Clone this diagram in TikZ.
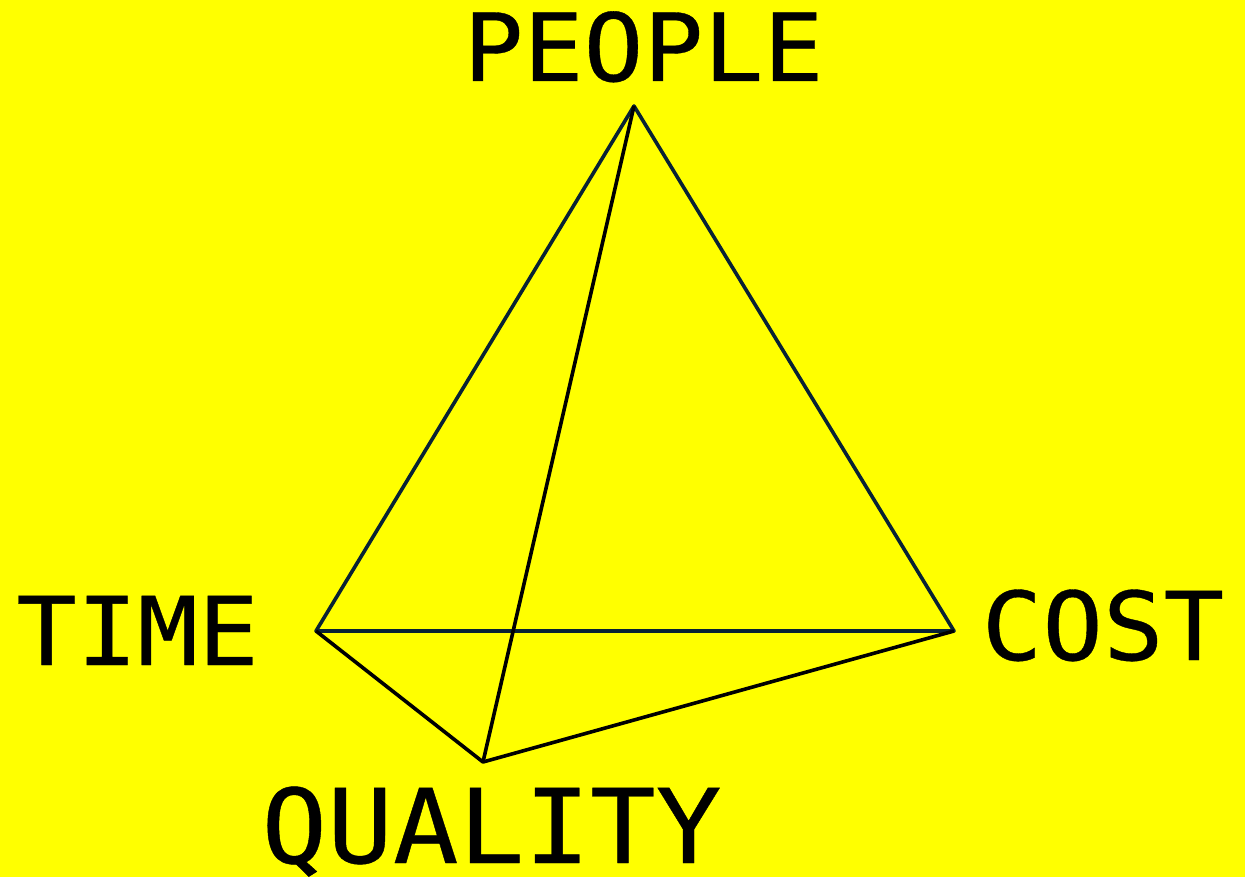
\documentclass[tikz,border=0pt]{standalone}
\usepackage{fontspec}
\newfontfamily\labfont[FakeStretch=1.06,FakeBold=0.4]{DejaVu Sans Mono}
\definecolor{bgy}{RGB}{255,255,0}
\definecolor{edgec}{RGB}{8,34,52}
\tikzset{lab/.style={inner sep=0pt,anchor=base,text=black},edge/.style={draw=black,line width=3.6pt,line join=round},backedge/.style={edge,draw=edgec}}
\begin{document}
\begin{tikzpicture}[x=1pt,y=-1pt]
\useasboundingbox[fill=bgy] (0,0) rectangle (1245,877);
\coordinate (P) at (634,106);
\coordinate (T) at (316,631);
\coordinate (C) at (954,631);
\coordinate (Q) at (483,762);
\draw[backedge] (P)--(T)--(C)--cycle;
\draw[edge] (T)--(Q)--(C);
\draw[edge] (P)--(Q);
\node[lab,font=\labfont\fontsize{94}{94}\selectfont] (people) at (643.5,81) {PEOPLE};
\node[lab,font=\labfont\fontsize{95}{95}\selectfont] (time) at (137.5,665) {TIME};
\node[lab,font=\labfont\fontsize{95}{95}\selectfont] (cost) at (1103,660) {COST};
\node[lab,font=\labfont\fontsize{103}{103}\selectfont] (quality) at (491.5,863) {QUALITY};
\end{tikzpicture}
\end{document}
